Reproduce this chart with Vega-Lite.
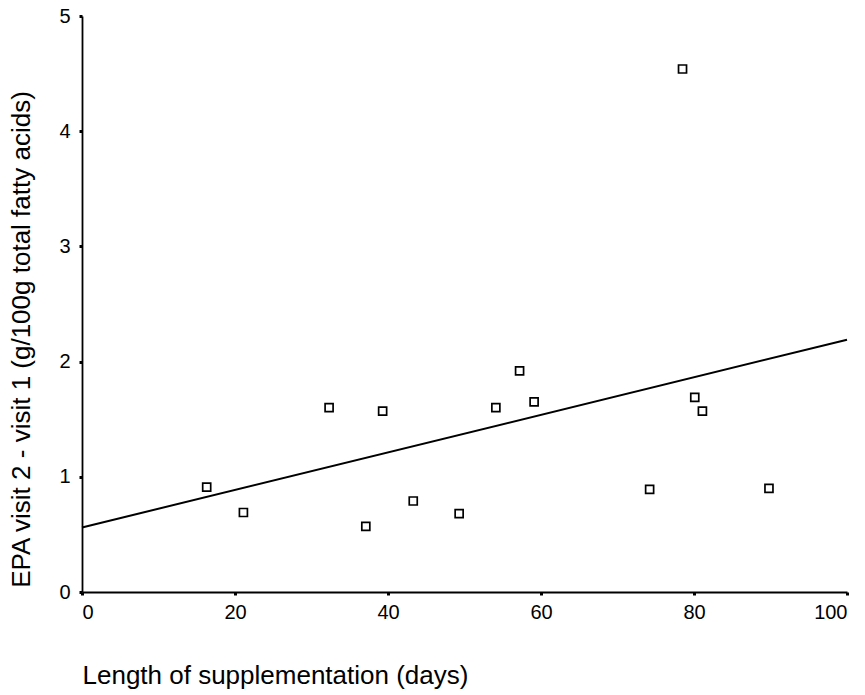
{
  "$schema": "https://vega.github.io/schema/vega-lite/v6.json",
  "autosize": "none",
  "width": 765,
  "height": 576,
  "padding": {"left": 82, "top": 16, "right": 18, "bottom": 103},
  "background": "white",
  "config": {
    "view": {"stroke": null},
    "font": "Liberation Sans",
    "axis": {
      "grid": false,
      "domainColor": "black",
      "domainWidth": 1.8,
      "tickColor": "black",
      "tickWidth": 3,
      "tickSize": 3,
      "labelColor": "black",
      "labelFont": "Liberation Sans",
      "labelFontSize": 20,
      "titleFont": "Liberation Sans",
      "titleFontSize": 26,
      "titleFontWeight": "normal",
      "titleColor": "black"
    }
  },
  "datasets": {
    "pts": [
      {"days": 16.3, "epa": 0.91},
      {"days": 21.1, "epa": 0.69},
      {"days": 32.3, "epa": 1.6},
      {"days": 37.1, "epa": 0.57},
      {"days": 39.3, "epa": 1.57},
      {"days": 43.3, "epa": 0.79},
      {"days": 49.3, "epa": 0.68},
      {"days": 54.1, "epa": 1.6},
      {"days": 57.2, "epa": 1.92},
      {"days": 59.1, "epa": 1.65},
      {"days": 74.2, "epa": 0.89},
      {"days": 78.5, "epa": 4.54},
      {"days": 80.1, "epa": 1.69},
      {"days": 81.1, "epa": 1.57},
      {"days": 89.8, "epa": 0.9}
    ],
    "fit": [
      {"days": 0, "epa": 0.56},
      {"days": 100, "epa": 2.19}
    ]
  },
  "layer": [
    {
      "data": {"name": "fit"},
      "mark": {"type": "line", "color": "black", "strokeWidth": 2},
      "encoding": {
        "x": {"field": "days", "type": "quantitative"},
        "y": {"field": "epa", "type": "quantitative"}
      }
    },
    {
      "data": {"name": "pts"},
      "mark": {"type": "point", "shape": "square", "size": 64, "filled": false, "fill": "white", "fillOpacity": 1, "stroke": "black", "strokeWidth": 1.7, "opacity": 1},
      "encoding": {
        "x": {
          "field": "days",
          "type": "quantitative",
          "scale": {"domain": [0, 100], "nice": false, "zero": true},
          "axis": {
            "values": [0, 20, 40, 60, 80, 100],
            "format": "d",
            "title": "Length of supplementation (days)",
            "labelPadding": 7,
            "titleAnchor": "start",
            "titleAlign": "left",
            "titleBaseline": "alphabetic",
            "titleX": 0,
            "titleY": 91
          }
        },
        "y": {
          "field": "epa",
          "type": "quantitative",
          "scale": {"domain": [0, 5], "nice": false},
          "axis": {
            "values": [0, 1, 2, 3, 4, 5],
            "format": "d",
            "title": "EPA visit 2 - visit 1 (g/100g total fatty acids)",
            "labelPadding": 9,
            "titleAngle": -90,
            "titleAlign": "center",
            "titleBaseline": "alphabetic",
            "titleX": -53,
            "titleY": 323
          }
        }
      }
    }
  ]
}
